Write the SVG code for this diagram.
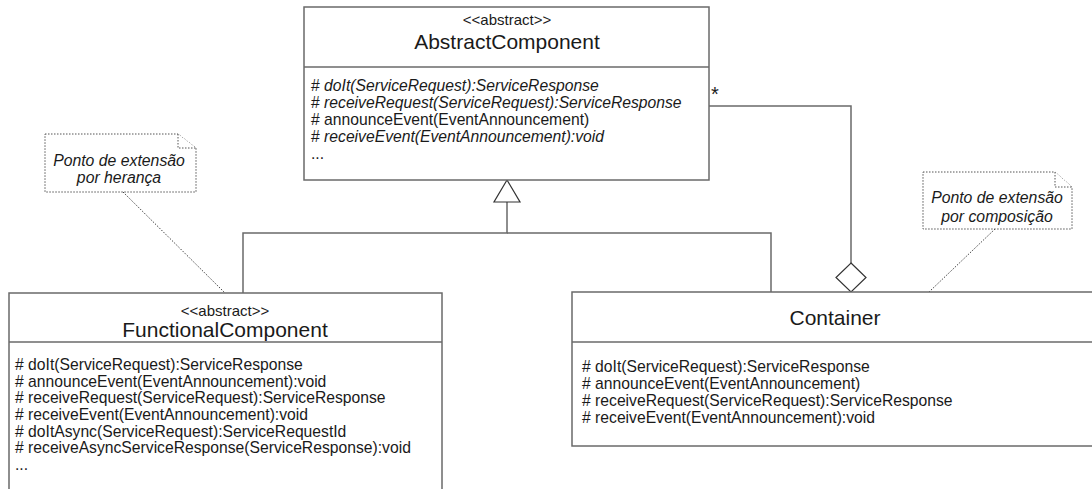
<svg xmlns="http://www.w3.org/2000/svg" width="1092" height="489" viewBox="0 0 1092 489">
<style>
.box{fill:#fff;stroke:#6a6a6a;stroke-width:1.5}
.ln{fill:none;stroke:#6a6a6a;stroke-width:1.5}
.hd{fill:#fff;stroke:#333;stroke-width:1.2}
.note{fill:#fff;stroke:#555;stroke-width:1;stroke-dasharray:1.5 1.5}
.dot{fill:none;stroke:#444;stroke-width:1;stroke-dasharray:1.5 1.5}
text{font-family:"Liberation Sans",Arial,sans-serif;fill:#1a1a1a}
.st{font-size:15px;text-anchor:middle}
.ti{font-size:21px;text-anchor:middle}
.m{font-size:15.7px}
.i{font-style:italic}
.nt{font-size:15.8px;font-style:italic;text-anchor:middle}
</style>
<g id="connectors">
<polyline class="ln" points="507,202 507,233 243,233 243,293"/>
<polyline class="ln" points="507,233 771,233 771,292"/>
<polygon class="hd" points="507,180 494,202 520,202"/>
<polyline class="ln" points="709,106 851,106 851,263"/>
<polygon class="hd" points="851,263 866,277.5 851,292 836,277.5"/>
<text x="711" y="101" font-size="20px">*</text>
<line class="dot" x1="123" y1="192" x2="225" y2="293"/>
<line class="dot" x1="995" y1="229" x2="929" y2="292"/>
</g>
<g id="AbstractComponent">
<rect class="box" x="304" y="7" width="405" height="173"/>
<line class="ln" x1="304" y1="67" x2="709" y2="67"/>
<text class="st" x="507" y="25">&lt;&lt;abstract&gt;&gt;</text>
<text class="ti" x="507" y="49">AbstractComponent</text>
<text class="m" x="311" y="91"># <tspan class="i">doIt(ServiceRequest):ServiceResponse</tspan></text>
<text class="m" x="311" y="108"># <tspan class="i">receiveRequest(ServiceRequest):ServiceResponse</tspan></text>
<text class="m" x="311" y="125"># announceEvent(EventAnnouncement)</text>
<text class="m" x="311" y="142"># <tspan class="i">receiveEvent(EventAnnouncement):void</tspan></text>
<text class="m" x="311" y="159">...</text>
</g>
<g id="FunctionalComponent">
<rect class="box" x="9" y="293" width="433" height="210"/>
<line class="ln" x1="9" y1="342" x2="442" y2="342"/>
<text class="st" x="225" y="316">&lt;&lt;abstract&gt;&gt;</text>
<text class="ti" x="225" y="337">FunctionalComponent</text>
<text class="m" x="15" y="370"># doIt(ServiceRequest):ServiceResponse</text>
<text class="m" x="15" y="387"># announceEvent(EventAnnouncement):void</text>
<text class="m" x="15" y="403"># receiveRequest(ServiceRequest):ServiceResponse</text>
<text class="m" x="15" y="420"># receiveEvent(EventAnnouncement):void</text>
<text class="m" x="15" y="437"># doItAsync(ServiceRequest):ServiceRequestId</text>
<text class="m" x="15" y="453"># receiveAsyncServiceResponse(ServiceResponse):void</text>
<text class="m" x="15" y="470">...</text>
</g>
<g id="Container">
<rect class="box" x="572" y="292" width="530" height="154"/>
<line class="ln" x1="572" y1="342" x2="1100" y2="342"/>
<text class="ti" x="835" y="325" font-size="20px">Container</text>
<text class="m" x="582" y="372"># doIt(ServiceRequest):ServiceResponse</text>
<text class="m" x="582" y="389"># announceEvent(EventAnnouncement)</text>
<text class="m" x="582" y="406"># receiveRequest(ServiceRequest):ServiceResponse</text>
<text class="m" x="582" y="423"># receiveEvent(EventAnnouncement):void</text>
</g>
<g id="note-heranca">
<path class="note" d="M45,134 H178 L196,148 V192 H45 Z"/>
<path class="note" d="M178,134 V148 H196"/>
<text class="nt" x="119" y="166">Ponto de extensão</text>
<text class="nt" x="119" y="183">por herança</text>
</g>
<g id="note-composicao">
<path class="note" d="M923,172 H1055 L1072,187 V229 H923 Z"/>
<path class="note" d="M1055,172 V187 H1072"/>
<text class="nt" x="997" y="203">Ponto de extensão</text>
<text class="nt" x="997" y="222">por composição</text>
</g>
</svg>
